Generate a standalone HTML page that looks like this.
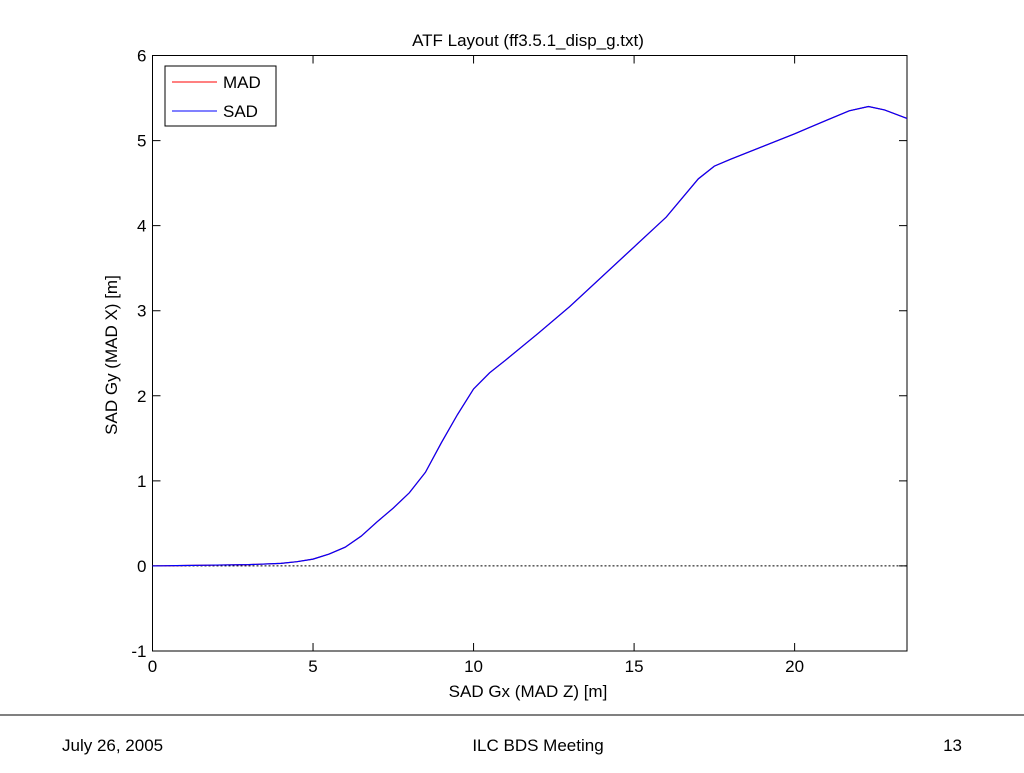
<!DOCTYPE html>
<html><head><meta charset="utf-8"><style>
body{margin:0;background:#fff;font-family:"Liberation Sans",sans-serif}
</style></head><body>
<svg width="1024" height="768" xmlns="http://www.w3.org/2000/svg" font-family="Liberation Sans, sans-serif">
<text x="528" y="46" font-size="17" text-anchor="middle">ATF Layout (ff3.5.1_disp_g.txt)</text>
<g id="axes"></g>
<g id="series"></g>
<text x="528" y="697" font-size="17" text-anchor="middle">SAD Gx (MAD Z) [m]</text>
<text transform="translate(117,355) rotate(-90)" font-size="17" text-anchor="middle">SAD Gy (MAD X) [m]</text>
<g>
<rect x="165" y="66" width="111" height="60" fill="#fff" stroke="#000"/>
<line x1="172" y1="82" x2="217" y2="82" stroke="#f00"/>
<text x="223" y="88" font-size="17">MAD</text>
<line x1="172" y1="111" x2="217" y2="111" stroke="#00f"/>
<text x="223" y="117" font-size="17">SAD</text>
</g>
<line x1="0" y1="715" x2="1024" y2="715" stroke="#000"/>
<text x="62" y="751" font-size="17">July 26, 2005</text>
<text x="538" y="751" font-size="17" text-anchor="middle">ILC BDS Meeting</text>
<text x="962" y="751" font-size="17" text-anchor="end">13</text>
</svg>
<script>
const xTicks=[0,5,10,15,20];
const yTicks=[-1,0,1,2,3,4,5,6];
const xs=[0,1,2,3,4,4.5,5,5.5,6,6.5,7,7.5,8,8.5,9,9.5,10,10.5,11,12,13,14,15,16,17,17.5,18,19,20,21,21.7,22.3,22.8,23.5];
const ys=[0,0.005,0.01,0.015,0.03,0.05,0.08,0.14,0.22,0.35,0.52,0.68,0.86,1.1,1.45,1.78,2.08,2.27,2.42,2.73,3.05,3.4,3.75,4.1,4.55,4.7,4.78,4.93,5.08,5.24,5.35,5.40,5.36,5.26];
const X0=152.5,X1=907,Y0=651,Y1=55.5,xmin=0,xmax=23.5,ymin=-1,ymax=6;
const sx=v=>X0+(v-xmin)/(xmax-xmin)*(X1-X0);
const sy=v=>Y0-(v-ymin)/(ymax-ymin)*(Y0-Y1);
const NS="http://www.w3.org/2000/svg";
const ax=document.getElementById('axes'),se=document.getElementById('series');
function mk(t,a,p){const e=document.createElementNS(NS,t);for(const k in a)e.setAttribute(k,a[k]);p.appendChild(e);return e;}
const box=mk('rect',{x:X0,y:Y1,width:X1-X0,height:Y0-Y1,fill:'none',stroke:'#000'},ax);


xTicks.forEach(v=>{
 const l=mk('path',{d:`M${sx(v)},${Y0}v-8M${sx(v)},${Y1}v8`,stroke:'#000'},ax);
 
 
 const t=mk('text',{x:sx(v),y:Y0+21,'font-size':17,'text-anchor':'middle'},ax);t.textContent=v;
 
 
});
yTicks.forEach(v=>{
 const l=mk('path',{d:`M${X0},${sy(v)}h8M${X1},${sy(v)}h-8`,stroke:'#000'},ax);
 
 
 const t=mk('text',{x:X0-6,y:sy(v)+6,'font-size':17,'text-anchor':'end'},ax);t.textContent=v;
 
 
});
const z=mk('line',{x1:X0,x2:X1,y1:sy(0),y2:sy(0),stroke:'#000','stroke-dasharray':'2,2'},se);


const pts=xs.map((x,i)=>sx(x)+','+sy(ys[i])).join(' ');
const m=mk('polyline',{points:pts,fill:'none',stroke:'#f00','stroke-width':1.2},se);


const s=mk('polyline',{points:pts,fill:'none',stroke:'#00f','stroke-width':1.2},se);


</script>
</body></html>
